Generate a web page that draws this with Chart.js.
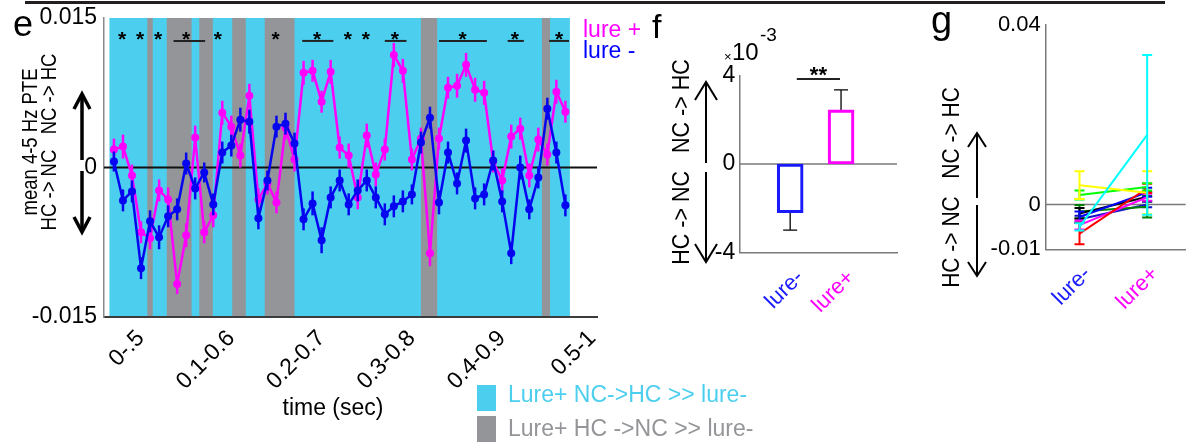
<!DOCTYPE html>
<html>
<head>
<meta charset="utf-8">
<script src="https://cdn.jsdelivr.net/npm/chart.js@4.4.1/dist/chart.umd.min.js"></script>
<style>
html,body{margin:0;padding:0;background:#ffffff;}
body{position:relative;width:1188px;height:442px;overflow:hidden;}
canvas{position:absolute;top:0;}
#topRule{position:absolute;left:25px;top:1px;width:1140px;height:3px;background:#231f20;}
</style>
</head>
<body>
<div id="topRule"></div>
<canvas id="chartE" width="800" height="442" style="left:0px"></canvas>
<canvas id="chartF" width="260" height="330" style="left:645px"></canvas>
<canvas id="chartG" width="283" height="330" style="left:905px"></canvas>
<script>
// ================= DATA =================
// Panel e: sliding windows (index 0..50), tick labels
const windowTickIndex = [0, 10, 20, 30, 40, 50];
const windowTickLabels = ['0-.5', '0.1-0.6', '0.2-0.7', '0.3-0.8', '0.4-0.9', '0.5-1'];
const pteTickValues = [-0.015, 0, 0.015];
const pteTickLabels = ['-0.015', '0', '0.015'];

const lurePlusPTE = [
  0.0018, 0.0021, -0.0008, -0.0065, -0.0071, -0.0023, -0.0032, -0.0117, -0.0068, 0.0030,
  -0.0065, -0.0048, 0.0055, 0.0041, 0.0012, 0.0072, -0.0032, -0.0016, -0.0035, 0.0040,
  0.0008, 0.0095, 0.0097, 0.0066, 0.0096, 0.0020, 0.0012, -0.0030, 0.0032, -0.0007,
  0.0018, 0.0113, 0.0097, 0.0008, 0.0029, -0.0086, 0.0029, 0.0080, 0.0082, 0.0103,
  0.0078, 0.0075, 0.0006, -0.0013, 0.0031, 0.0039, -0.0008, 0.0028, 0.0013, 0.0076,
  0.0056
];
const lurePlusSEM = [
  0.0011, 0.0012, 0.0011, 0.0011, 0.0011, 0.0011, 0.0012, 0.0010, 0.0012, 0.0012,
  0.0011, 0.0012, 0.0012, 0.0011, 0.0012, 0.0012, 0.0011, 0.0011, 0.0011, 0.0012,
  0.0012, 0.0012, 0.0011, 0.0011, 0.0012, 0.0011, 0.0012, 0.0012, 0.0012, 0.0012,
  0.0011, 0.0012, 0.0012, 0.0011, 0.0011, 0.0013, 0.0011, 0.0011, 0.0012, 0.0012,
  0.0012, 0.0012, 0.0011, 0.0012, 0.0012, 0.0011, 0.0012, 0.0012, 0.0011, 0.0012,
  0.0011
];
const lureMinusPTE = [
  0.0006, -0.0033, -0.0024, -0.0101, -0.0054, -0.0070, -0.0049, -0.0042, 0.0004, -0.0021,
  -0.0005, -0.0037, 0.0015, 0.0022, 0.0048, 0.0046, -0.0051, -0.0013, 0.0041, 0.0044,
  0.0024, -0.0052, -0.0036, -0.0073, -0.0030, -0.0013, -0.0037, -0.0023, -0.0013, -0.0030,
  -0.0047, -0.0039, -0.0034, -0.0027, 0.0025, 0.0050, -0.0035, 0.0015, -0.0016, 0.0027,
  -0.0031, -0.0027, 0.0007, -0.0034, -0.0086, 0.0000, -0.0042, -0.0010, 0.0059, 0.0015,
  -0.0038
];
const lureMinusSEM = [
  0.0010, 0.0011, 0.0011, 0.0011, 0.0011, 0.0012, 0.0011, 0.0011, 0.0011, 0.0011,
  0.0010, 0.0011, 0.0011, 0.0011, 0.0012, 0.0012, 0.0011, 0.0010, 0.0011, 0.0011,
  0.0011, 0.0011, 0.0012, 0.0013, 0.0011, 0.0011, 0.0011, 0.0011, 0.0011, 0.0011,
  0.0011, 0.0011, 0.0011, 0.0010, 0.0011, 0.0011, 0.0012, 0.0011, 0.0011, 0.0012,
  0.0011, 0.0011, 0.0010, 0.0011, 0.0011, 0.0012, 0.0010, 0.0011, 0.0011, 0.0011,
  0.0011
];
// shading (window-index units)
const cyanSpan = [-0.5, 50.5];
const grayStart = [3.7, 5.85, 9.45, 13.1, 16.7, 34.0, 47.4];
const grayEnd   = [4.3, 8.6, 10.95, 14.6, 20.0, 35.8, 48.3];
// significance marks (window-index units)
const singleStarPos = [0.9, 2.9, 4.9, 11.5, 17.9, 25.9, 27.9];
const sigStarPos    = [8.0, 22.5, 31.1, 38.6, 44.4, 49.3];
const sigLineStart  = [6.6, 20.85, 30.0, 36.0, 43.6, 48.2];
const sigLineEnd    = [10.1, 24.3, 32.4, 41.3, 45.4, 50.4];
const starLevel = 0.0134;
const sigLineLevel = 0.0127;

// Panel f (x 10^-3)
const barCategories = ['lure-', 'lure+'];
const barMeans = [-2.2, 2.44];
const barSEM = [0.78, 0.90];
const barTickValues = [-4, 0, 4];
const barTickLabels = ['-4', '0', '4'];
const barSigSpan = [1.13, 1.98];
const barSigLevel = 3.83;
const barStarLevel = 4.25;

// Panel g (individual subjects)
const subjColors    = ['#00ffff', '#ffff00', '#00ff00', '#ff0000', '#ff00ff', '#0000ff', '#000000', '#008000', '#1414c8'];
const subjLureMinus = [-0.0050, 0.0043, 0.0021, -0.0065, -0.0046, -0.0028, -0.0020, -0.0016, -0.0033];
const subjLurePlus  = [0.0155, 0.0026, 0.0039, 0.0036, 0.0016, 0.0027, 0.0017, -0.0005, 0.0000];
const subjSEMMinus  = [0.0008, 0.0031, 0.0010, 0.0024, 0.0010, 0.0012, 0.0012, 0.0015, 0.0008];
const subjSEMPlus   = [0.0178, 0.0048, 0.0008, 0.0010, 0.0008, 0.0010, 0.0010, 0.0024, 0.0006];
const gTickValues = [-0.01, 0, 0.04];
const gTickLabels = ['-0.01', '0', '0.04'];

// ================= STYLE =================
const FONT = '"Liberation Sans", Arial, Helvetica, sans-serif';
const CYAN = '#4ccfee';
const GRAY = '#939598';
const BLUE = '#0505f0';
const MAGENTA = '#ff00ff';
const LBLUE = '#1a1aff';
const catColors = [LBLUE, MAGENTA];

function fixWidth(w){return function(s){s.width=w;s.paddingLeft=0;s.paddingRight=0;s.paddingTop=0;s.paddingBottom=0;};}
function fixHeight(h){return function(s){s.height=h;s.paddingLeft=0;s.paddingRight=0;s.paddingTop=0;s.paddingBottom=0;};}
function setTicks(values){return function(s){s.ticks=values.map(v=>({value:v}));};}

function vText(ctx, txt, cx, cy, font, color, sx){
  ctx.save(); ctx.translate(cx, cy); ctx.scale(sx || 1, 1); ctx.rotate(-Math.PI/2);
  ctx.font = font; ctx.fillStyle = color; ctx.textAlign = 'center'; ctx.textBaseline = 'middle';
  ctx.fillText(txt, 0, 0); ctx.restore();
}
function vArrow(ctx, x, yFrom, yTip, hw, hh, lw){
  ctx.save(); ctx.lineWidth = lw; ctx.strokeStyle = '#000'; ctx.lineCap = 'butt'; ctx.lineJoin = 'miter';
  ctx.beginPath(); ctx.moveTo(x, yFrom); ctx.lineTo(x, yTip); ctx.stroke();
  const d = yTip < yFrom ? 1 : -1;
  ctx.beginPath(); ctx.moveTo(x-hw, yTip+d*hh); ctx.lineTo(x, yTip); ctx.lineTo(x+hw, yTip+d*hh); ctx.stroke();
  ctx.restore();
}

const errorBarPlugin = {
  id: 'errorBars',
  beforeDatasetDraw(chart, args){
    const ds = chart.data.datasets[args.index];
    if (!ds.sem) return;
    const xs = chart.scales.x, ys = chart.scales.y, ctx = chart.ctx;
    ctx.save();
    ctx.strokeStyle = ds.semColor || ds.borderColor;
    ctx.lineWidth = ds.semWidth || 2;
    ds.data.forEach((p, i) => {
      const e = ds.sem[i];
      const px = xs.getPixelForValue(p.x);
      let lo = p.y - e, hi = p.y + e;
      if (ds.semOneSided) { if (p.y < 0) hi = p.y; else lo = p.y; }
      const y1 = ys.getPixelForValue(lo), y2 = ys.getPixelForValue(hi);
      ctx.beginPath(); ctx.moveTo(px, y1); ctx.lineTo(px, y2);
      if (ds.semCap) {
        const c = ds.semCap;
        if (!ds.semOneSided || p.y < 0) { ctx.moveTo(px-c, y1); ctx.lineTo(px+c, y1); }
        if (!ds.semOneSided || p.y >= 0) { ctx.moveTo(px-c, y2); ctx.lineTo(px+c, y2); }
      }
      ctx.stroke();
    });
    ctx.restore();
  }
};

const zeroLinePlugin = {
  id: 'zeroLine',
  beforeDatasetsDraw(chart, args, opts){
    if (!opts || !opts.color) return;
    const ctx = chart.ctx, a = chart.chartArea, y0 = chart.scales.y.getPixelForValue(0);
    ctx.save(); ctx.strokeStyle = opts.color; ctx.lineWidth = opts.width;
    ctx.beginPath(); ctx.moveTo(a.left, y0); ctx.lineTo(a.right, y0); ctx.stroke(); ctx.restore();
  }
};

// ================= PANEL E =================
const panelE = {
  id: 'panelE',
  beforeDatasetsDraw(chart){
    const ctx = chart.ctx, a = chart.chartArea, xs = chart.scales.x, ys = chart.scales.y;
    ctx.save();
    const c0 = xs.getPixelForValue(cyanSpan[0]), c1 = xs.getPixelForValue(cyanSpan[1]);
    ctx.fillStyle = CYAN; ctx.fillRect(c0, a.top, c1-c0, a.bottom-a.top-1);
    ctx.fillStyle = GRAY;
    grayStart.forEach((s, k) => {
      const x0 = xs.getPixelForValue(s), x1 = xs.getPixelForValue(grayEnd[k]);
      ctx.fillRect(x0, a.top, x1-x0, a.bottom-a.top-1);
    });
    const y0 = ys.getPixelForValue(0);
    ctx.strokeStyle = '#111'; ctx.lineWidth = 2;
    ctx.beginPath(); ctx.moveTo(a.left, y0); ctx.lineTo(a.right, y0); ctx.stroke();
    ctx.restore();
  },
  afterDraw(chart){
    const ctx = chart.ctx, xs = chart.scales.x, ys = chart.scales.y;
    ctx.save();
    ctx.fillStyle = '#000'; ctx.font = '36px ' + FONT; ctx.textAlign = 'left'; ctx.textBaseline = 'alphabetic';
    ctx.fillText('e', 13, 36);
    vText(ctx, 'mean 4-5 Hz PTE', 31, 142, '18.5px ' + FONT, '#000', 1.15);
    vText(ctx, 'HC -> NC   NC -> HC', 50, 142, '18.5px ' + FONT, '#000', 1.15);
    vArrow(ctx, 82, 160, 94, 8, 15, 3.5);
    vArrow(ctx, 82, 171, 232, 8, 15, 3.5);
    // significance stars & lines
    ctx.fillStyle = '#000'; ctx.font = 'bold 21px ' + FONT; ctx.textAlign = 'center'; ctx.textBaseline = 'alphabetic';
    const sy = ys.getPixelForValue(starLevel) + 12;
    singleStarPos.concat(sigStarPos).forEach(p => ctx.fillText('*', xs.getPixelForValue(p), sy));
    ctx.strokeStyle = '#222'; ctx.lineWidth = 2;
    const ly = ys.getPixelForValue(sigLineLevel);
    sigLineStart.forEach((s, k) => {
      ctx.beginPath(); ctx.moveTo(xs.getPixelForValue(s), ly); ctx.lineTo(xs.getPixelForValue(sigLineEnd[k]), ly); ctx.stroke();
    });
    // legend
    ctx.font = '23px ' + FONT; ctx.textAlign = 'left';
    ctx.fillStyle = MAGENTA; ctx.fillText('lure +', 583, 36.5);
    ctx.fillStyle = '#0000ff'; ctx.fillText('lure -', 583, 57.5);
    // x title
    ctx.fillStyle = '#000'; ctx.textAlign = 'center'; ctx.fillText('time (sec)', 333, 415);
    // shading legend
    ctx.textAlign = 'left';
    ctx.fillStyle = CYAN; ctx.fillRect(477, 385, 19, 26); ctx.fillText('Lure+ NC->HC >> lure-', 508, 402);
    ctx.fillStyle = GRAY; ctx.fillRect(477, 416, 19, 26); ctx.fillText('Lure+ HC ->NC >> lure-', 508, 436);
    ctx.restore();
  }
};

new Chart(document.getElementById('chartE'), {
  type: 'line',
  data: {
    datasets: [
      { label: 'lure -', data: lureMinusPTE.map((v, i) => ({x: i, y: v})), sem: lureMinusSEM, semWidth: 2.5,
        borderColor: BLUE, backgroundColor: BLUE, borderWidth: 2.5, pointRadius: 4, pointBorderWidth: 0,
        pointHoverRadius: 4, tension: 0, order: 0 },
      { label: 'lure +', data: lurePlusPTE.map((v, i) => ({x: i, y: v})), sem: lurePlusSEM, semWidth: 2.5,
        borderColor: MAGENTA, backgroundColor: MAGENTA, borderWidth: 2.5, pointRadius: 4, pointBorderWidth: 0,
        pointHoverRadius: 4, tension: 0, order: 1 }
    ]
  },
  options: {
    responsive: false, animation: false, devicePixelRatio: 1,
    layout: { padding: { top: 18, left: 0, right: 203, bottom: 0 } },
    plugins: { legend: { display: false }, tooltip: { enabled: false } },
    scales: {
      x: { type: 'linear', min: -1.1, max: 53.5, offset: false,
        grid: { display: false, drawTicks: false },
        border: { display: true, color: '#3c3c3c', width: 2 },
        afterBuildTicks: setTicks(windowTickIndex), afterFit: fixHeight(125),
        ticks: { autoSkip: false, minRotation: 45, maxRotation: 45, labelOffset: 27, padding: 8, color: '#000',
          font: { family: FONT, size: 23 }, callback: (v, i) => windowTickLabels[i] } },
      y: { min: -0.015, max: 0.015,
        grid: { display: false, drawTicks: false },
        border: { display: true, color: '#8a8a8a', width: 1.5 },
        afterBuildTicks: setTicks(pteTickValues), afterFit: fixWidth(104),
        ticks: { padding: 7, color: '#000', font: { family: FONT, size: 23 }, callback: (v, i) => pteTickLabels[i] } }
    }
  },
  plugins: [panelE, errorBarPlugin]
});

// ================= PANEL F =================
const panelF = {
  id: 'panelF',
  afterDraw(chart){
    const ctx = chart.ctx, xs = chart.scales.x, ys = chart.scales.y;
    ctx.save();
    ctx.fillStyle = '#000'; ctx.textBaseline = 'alphabetic'; ctx.textAlign = 'left';
    ctx.font = '34px ' + FONT; ctx.fillText('f', 7, 38);
    vText(ctx, 'HC -> NC   NC -> HC', 37, 162, '21.5px ' + FONT, '#000', 1.12);
    vArrow(ctx, 61, 163, 82, 11, 18, 2);
    vArrow(ctx, 61, 172, 262, 11, 18, 2);
    ctx.font = '13px ' + FONT; ctx.fillText('\u00d7', 79, 61);
    ctx.font = '24px ' + FONT; ctx.fillText('10', 87, 60);
    ctx.font = '19px ' + FONT; ctx.fillText('-3', 115, 41);
    // significance
    const ly = ys.getPixelForValue(barSigLevel);
    ctx.strokeStyle = '#222'; ctx.lineWidth = 2;
    ctx.beginPath(); ctx.moveTo(xs.getPixelForValue(barSigSpan[0]), ly); ctx.lineTo(xs.getPixelForValue(barSigSpan[1]), ly); ctx.stroke();
    ctx.font = 'bold 22px ' + FONT; ctx.textAlign = 'center';
    ctx.fillText('**', xs.getPixelForValue((barSigSpan[0] + barSigSpan[1]) / 2), ys.getPixelForValue(barStarLevel) + 12.5);
    ctx.restore();
  }
};

new Chart(document.getElementById('chartF'), {
  type: 'bar',
  data: {
    datasets: [{ data: barMeans.map((v, i) => ({x: i + 1, y: v})), sem: barSEM, semColor: '#000', semWidth: 1.3, semCap: 7, semOneSided: true,
      backgroundColor: 'rgba(255,255,255,0)', borderColor: catColors, borderWidth: 2.5, borderSkipped: false, barThickness: 26 }]
  },
  options: {
    responsive: false, animation: false, devicePixelRatio: 1,
    layout: { padding: { top: 75.3, left: 0, right: 8, bottom: 0 } },
    plugins: { legend: { display: false }, tooltip: { enabled: false }, zeroLine: { color: '#7a7a7a', width: 1.5 } },
    scales: {
      x: { type: 'linear', min: 0, max: 3.1, offset: false,
        grid: { display: false, drawTicks: false, offset: false }, border: { display: true, color: '#7a7a7a', width: 1.5 },
        afterBuildTicks: setTicks(barCategories.map((c, i) => i + 1)), afterFit: fixHeight(77.3),
        ticks: { autoSkip: false, minRotation: 45, maxRotation: 45, labelOffset: 10, padding: 12,
          color: c => catColors[c.index], font: { family: FONT, size: 22 }, callback: (v, i) => barCategories[i] } },
      y: { min: -4, max: 4,
        grid: { display: false, drawTicks: false }, border: { display: true, color: '#7a7a7a', width: 1.5 },
        afterBuildTicks: setTicks(barTickValues), afterFit: fixWidth(94.3),
        ticks: { padding: 4, color: '#000', font: { family: FONT, size: 23 }, callback: (v, i) => barTickLabels[i] } }
    }
  },
  plugins: [zeroLinePlugin, errorBarPlugin, panelF]
});

// ================= PANEL G =================
const panelG = {
  id: 'panelG',
  afterDraw(chart){
    const ctx = chart.ctx;
    ctx.save();
    ctx.fillStyle = '#000'; ctx.textBaseline = 'alphabetic'; ctx.textAlign = 'left';
    ctx.font = '38px ' + FONT; ctx.fillText('g', 26, 33);
    vText(ctx, 'HC -> NC   NC -> HC', 48, 187.5, '21px ' + FONT, '#000', 1.12);
    vArrow(ctx, 72, 198, 133, 9, 14, 2);
    vArrow(ctx, 72, 205, 276, 9, 14, 2);
    ctx.restore();
  }
};

new Chart(document.getElementById('chartG'), {
  type: 'line',
  data: {
    datasets: subjColors.map((col, k) => ({
      data: [{x: 1, y: subjLureMinus[k]}, {x: 2, y: subjLurePlus[k]}],
      sem: [subjSEMMinus[k], subjSEMPlus[k]], semWidth: 2, semCap: 5,
      borderColor: col, backgroundColor: col, borderWidth: 2, pointRadius: 0, tension: 0
    }))
  },
  options: {
    responsive: false, animation: false, devicePixelRatio: 1,
    layout: { padding: { top: 25, left: 0, right: 2.3, bottom: 0 } },
    plugins: { legend: { display: false }, tooltip: { enabled: false }, zeroLine: { color: '#7a7a7a', width: 1.5 } },
    scales: {
      x: { type: 'linear', min: 0.5, max: 2.57, offset: false,
        grid: { display: false, drawTicks: false }, border: { display: true, color: '#7a7a7a', width: 1.5 },
        afterBuildTicks: setTicks(barCategories.map((c, i) => i + 1)), afterFit: fixHeight(80.7),
        ticks: { autoSkip: false, minRotation: 45, maxRotation: 45, labelOffset: 8, padding: 12,
          color: c => catColors[c.index], font: { family: FONT, size: 22 }, callback: (v, i) => barCategories[i] } },
      y: { min: -0.01, max: 0.04,
        grid: { display: false, drawTicks: false }, border: { display: true, color: '#7a7a7a', width: 1.5 },
        afterBuildTicks: setTicks(gTickValues), afterFit: fixWidth(140.7),
        ticks: { padding: 5, color: '#000', font: { family: FONT, size: 22 }, callback: (v, i) => gTickLabels[i] } }
    }
  },
  plugins: [zeroLinePlugin, errorBarPlugin, panelG]
});
</script>
</body>
</html>
